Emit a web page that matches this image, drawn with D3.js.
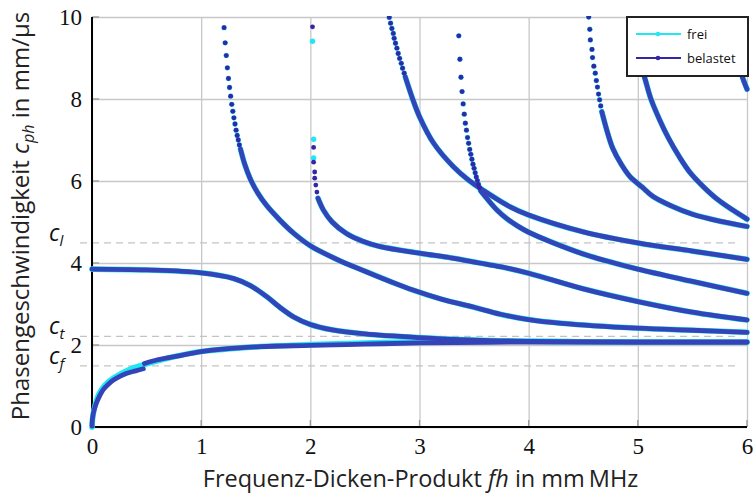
<!DOCTYPE html>
<html lang="de">
<head>
<meta charset="utf-8">
<title>Dispersionskurven</title>
<script src="https://cdn.jsdelivr.net/npm/d3@7"></script>
<style>
  body { margin: 0; background: #fff; }
  svg { display: block; }
</style>
</head>
<body>
<script>
// tick values
var xTicks = [0, 1, 2, 3, 4, 5, 6];
var yTicks = [0, 2, 4, 6, 8, 10];

// reference velocities (dashed lines)
var refNames = ["l", "t", "f"];
var refValues = [4.49, 2.21, 1.49];

// --- "belastet" modes, [fh, cph] ---
var a0LowB = [[0, 0.02], [0.003, 0.17], [0.01, 0.3], [0.02, 0.42], [0.04, 0.58], [0.07, 0.76], [0.10, 0.90],
  [0.15, 1.04], [0.20, 1.15], [0.26, 1.24], [0.32, 1.31], [0.40, 1.37], [0.47, 1.42]];
var a0HighB = [[0.48, 1.55], [0.6, 1.64], [0.78, 1.73], [1.0, 1.84], [1.25, 1.91], [1.54, 1.96], [2.0, 1.99],
  [2.5, 2.02], [3.0, 2.05], [4.0, 2.07], [5.0, 2.07], [6.0, 2.07]];
var s0B = [[0, 3.85], [0.5, 3.83], [1.0, 3.76], [1.3, 3.62], [1.45, 3.45], [1.6, 3.18], [1.72, 2.92], [1.85, 2.68],
  [2.0, 2.5], [2.2, 2.37], [2.5, 2.27], [3.0, 2.18], [3.5, 2.12], [4.0, 2.09], [5.0, 2.07], [6.0, 2.07]];
var a1Dots = [[1.21, 9.74], [1.22, 9.37], [1.23, 9.06], [1.24, 8.76], [1.25, 8.5], [1.26, 8.28], [1.27, 8.07],
  [1.28, 7.87], [1.29, 7.7], [1.30, 7.54], [1.31, 7.39], [1.32, 7.24], [1.33, 7.11], [1.34, 7.0], [1.35, 6.88]];
var a1Line = [[1.36, 6.78], [1.40, 6.4], [1.45, 6.05], [1.52, 5.7], [1.6, 5.4], [1.72, 5.05], [1.85, 4.72], [2.0, 4.42],
  [2.25, 4.08], [2.5, 3.8], [2.75, 3.53], [2.94, 3.34], [3.2, 3.12], [3.5, 2.92], [3.74, 2.75], [4.0, 2.62],
  [4.3, 2.53], [5.0, 2.41], [5.5, 2.36], [6.0, 2.31]];
var s1DotsB = [[2.02, 9.76], [2.03, 6.82], [2.03, 6.46], [2.04, 6.22], [2.04, 6.07], [2.05, 5.9], [2.06, 5.73]];
var s1Line = [[2.07, 5.58], [2.12, 5.29], [2.2, 5.0], [2.33, 4.72], [2.48, 4.53], [2.64, 4.40], [3.0, 4.24],
  [3.3, 4.12], [3.55, 4.0], [3.74, 3.91], [4.0, 3.75], [4.5, 3.37], [5.0, 3.06], [5.5, 2.8], [6.0, 2.61]];
var a2Dots = [[2.723, 9.99], [2.735, 9.85], [2.747, 9.72], [2.76, 9.60], [2.768, 9.48], [2.78, 9.36],
  [2.793, 9.24], [2.805, 9.11], [2.818, 8.99], [2.833, 8.87], [2.845, 8.75], [2.86, 8.63]];
var a2Line = [[2.87, 8.54], [2.94, 7.98], [3.0, 7.57], [3.13, 6.92],
  [3.31, 6.35], [3.45, 6.02], [3.58, 5.78], [3.83, 5.37], [4.0, 5.17], [4.5, 4.76], [5.0, 4.49], [5.5, 4.29], [6.0, 4.09]];
var s2Dots = [[3.36, 9.54], [3.37, 8.97], [3.38, 8.53], [3.39, 8.18], [3.40, 7.88], [3.41, 7.63], [3.42, 7.41],
  [3.43, 7.24], [3.44, 7.06], [3.45, 6.92], [3.46, 6.77], [3.47, 6.65], [3.48, 6.53], [3.49, 6.41], [3.50, 6.31],
  [3.51, 6.20], [3.52, 6.10], [3.53, 6.01], [3.54, 5.92], [3.55, 5.84]];
var s2Line = [[3.56, 5.76], [3.64, 5.5], [3.71, 5.29], [3.8, 5.08], [3.9, 4.9], [4.0, 4.75], [4.2, 4.52],
  [4.5, 4.22], [4.7, 4.06], [5.0, 3.85], [5.5, 3.55], [6.0, 3.26]];
var a3Dots = [[4.55, 10.0], [4.56, 9.70], [4.565, 9.44], [4.58, 9.21], [4.585, 9.01], [4.597, 8.80], [4.61, 8.63],
  [4.62, 8.45], [4.63, 8.29], [4.64, 8.12], [4.65, 7.98], [4.66, 7.83]];
var a3Line = [[4.67, 7.69], [4.72, 7.2], [4.77, 6.8], [4.85, 6.4], [4.93, 6.1], [5.04, 5.85], [5.14, 5.62],
  [5.3, 5.4], [5.5, 5.19], [5.75, 5.02], [6.0, 4.89]];
var s3Line = [[4.92, 10.0], [4.96, 9.4], [5.0, 9.0], [5.03, 8.75], [5.06, 8.54], [5.12, 8.0], [5.2, 7.49],
  [5.28, 7.05], [5.38, 6.59], [5.48, 6.2], [5.6, 5.86], [5.73, 5.55], [5.87, 5.29], [6.0, 5.07]];
var a4Line = [[5.8, 10.0], [5.88, 9.3], [5.95, 8.6], [6.0, 8.24]];

// --- "frei" modes where they differ from "belastet" ---
var a0F = [[0, 0], [0.01, 0.3], [0.03, 0.55], [0.06, 0.78], [0.1, 0.96], [0.15, 1.1], [0.2, 1.2], [0.3, 1.35],
  [0.4, 1.46], [0.5, 1.54], [0.78, 1.73], [1.0, 1.84], [1.54, 1.96], [2.0, 2.01], [2.5, 2.05], [3.0, 2.08],
  [3.5, 2.09], [4.0, 2.09], [4.5, 2.08], [5.0, 2.08], [6.0, 2.07]];
var s1DotsF = [[2.02, 9.41], [2.03, 7.02], [2.03, 6.56]];

var freiLines = [a0F, s0B, a1Line, s1Line, a2Line, s2Line, a3Line, s3Line, a4Line];
var freiDots = [a1Dots, s1DotsF, a2Dots, s2Dots, a3Dots];
var belastetLines = [a0LowB, a0HighB, s0B, a1Line, s1Line, a2Line, s2Line, a3Line, s3Line, a4Line];
var belastetDots = [a1Dots, s1DotsB, a2Dots, s2Dots, a3Dots];

var freiColor = "#1fe8f4";
var belastetColor = "#3426a6";
var belastetLineColor = "#3444b8";

var width = 756, height = 497;
var plotLeft = 92, plotRight = 747, plotTop = 17, plotBottom = 427;

var svg = d3.select("body").append("svg")
  .attr("width", width)
  .attr("height", height);

var x = d3.scaleLinear().domain([0, 6]).range([plotLeft, plotRight]);
var y = d3.scaleLinear().domain([0, 10]).range([plotBottom, plotTop]);

var serif = "'Liberation Serif', 'DejaVu Serif', serif";
var sans = "'Open Sans', 'DejaVu Sans', sans-serif";

// grid + tick labels
var xAxis = svg.append("g")
  .attr("transform", "translate(0," + plotBottom + ")")
  .call(d3.axisBottom(x).tickValues(xTicks).tickFormat(d3.format("d"))
    .tickSizeInner(-(plotBottom - plotTop)).tickSizeOuter(0).tickPadding(11));
var yAxis = svg.append("g")
  .attr("transform", "translate(" + plotLeft + ",0)")
  .call(d3.axisLeft(y).tickValues(yTicks).tickFormat(d3.format("d"))
    .tickSizeInner(-(plotRight - plotLeft)).tickSizeOuter(0).tickPadding(10));

[xAxis, yAxis].forEach(function (ax) {
  ax.select(".domain").remove();
  ax.selectAll(".tick line").attr("stroke", "#c8c8c8").attr("stroke-width", 1.3);
  ax.selectAll(".tick text")
    .attr("fill", "#111")
    .style("font-family", serif)
    .style("font-size", "23px");
});

// short inner tick marks
svg.append("g").selectAll("line").data(xTicks.slice(1)).enter().append("line")
  .attr("x1", function (d) { return x(d); }).attr("x2", function (d) { return x(d); })
  .attr("y1", plotBottom).attr("y2", plotBottom - 7)
  .attr("stroke", "#999").attr("stroke-width", 1.3);
svg.append("g").selectAll("line").data(yTicks.slice(1)).enter().append("line")
  .attr("x1", plotLeft).attr("x2", plotLeft + 7)
  .attr("y1", function (d) { return y(d); }).attr("y2", function (d) { return y(d); })
  .attr("stroke", "#999").attr("stroke-width", 1.3);

// dashed reference lines
svg.append("g").selectAll("line").data(refValues).enter().append("line")
  .attr("x1", x(-0.11)).attr("x2", x(5.9))
  .attr("y1", function (d) { return y(d); }).attr("y2", function (d) { return y(d); })
  .attr("stroke", "#c4c4c4").attr("stroke-width", 1.3)
  .attr("stroke-dasharray", "7,5");

var refLabels = svg.append("g").selectAll("text").data(refValues).enter().append("text")
  .attr("x", 49)
  .attr("y", function (d) { return y(d) - 2; })
  .attr("fill", "#111")
  .style("font-family", sans)
  .style("font-style", "italic")
  .style("font-size", "23px");
refLabels.append("tspan").text("c");
refLabels.append("tspan")
  .attr("dy", 5)
  .style("font-size", "15px")
  .text(function (d, i) { return refNames[i]; });

// axis lines
svg.append("line").attr("x1", plotLeft).attr("x2", plotLeft).attr("y1", plotTop).attr("y2", plotBottom + 1)
  .attr("stroke", "#000").attr("stroke-width", 2);
svg.append("line").attr("x1", plotLeft - 1).attr("x2", plotRight).attr("y1", plotBottom).attr("y2", plotBottom)
  .attr("stroke", "#000").attr("stroke-width", 2);

// curves
svg.append("defs").append("clipPath").attr("id", "clip")
  .append("rect").attr("x", plotLeft - 4).attr("y", plotTop - 1)
  .attr("width", plotRight - plotLeft + 8).attr("height", plotBottom - plotTop + 5);

var plot = svg.append("g").attr("clip-path", "url(#clip)");
var line = d3.line()
  .x(function (d) { return x(d[0]); })
  .y(function (d) { return y(d[1]); })
  .curve(d3.curveCatmullRom);

function drawSeries(lines, dots, lineColor, dotColor, lw, r) {
  var g = plot.append("g");
  g.selectAll("path").data(lines).enter().append("path")
    .attr("d", line)
    .attr("fill", "none")
    .attr("stroke", lineColor)
    .attr("stroke-width", lw)
    .attr("stroke-linecap", "round")
    .attr("stroke-linejoin", "round");
  g.selectAll("g.dots").data(dots).enter().append("g").attr("class", "dots")
    .selectAll("circle").data(function (d) { return d; }).enter().append("circle")
    .attr("cx", function (d) { return x(d[0]); })
    .attr("cy", function (d) { return y(d[1]); })
    .attr("r", r)
    .attr("fill", dotColor);
}

drawSeries(freiLines, freiDots, freiColor, freiColor, 5.6, 2.7);
drawSeries(belastetLines, belastetDots, belastetLineColor, belastetColor, 4.8, 2.4);

// axis titles
var xTitle = svg.append("text")
  .attr("x", (plotLeft + plotRight) / 2 + 1)
  .attr("y", 487)
  .attr("text-anchor", "middle")
  .attr("fill", "#222")
  .style("font-family", sans)
  .style("font-size", "23.5px");
xTitle.append("tspan").text("Frequenz-Dicken-Produkt ");
xTitle.append("tspan").style("font-style", "italic").text("fh");
xTitle.append("tspan").text(" in mm\u2009MHz");

var yTitle = svg.append("text")
  .attr("transform", "translate(29,216) rotate(-90)")
  .attr("text-anchor", "middle")
  .attr("fill", "#222")
  .style("font-family", sans)
  .style("font-size", "24px");
yTitle.append("tspan").text("Phasengeschwindigkeit ");
yTitle.append("tspan").style("font-style", "italic").text("c");
yTitle.append("tspan").attr("dy", 5).style("font-style", "italic").style("font-size", "16px").text("ph");
yTitle.append("tspan").attr("dy", -5).text(" in mm/\u03bcs");

// legend
var legend = svg.append("g");
legend.append("rect")
  .attr("x", 627).attr("y", 17).attr("width", 121).attr("height", 59)
  .attr("fill", "#fff").attr("stroke", "#222").attr("stroke-width", 2);
var legendNames = ["frei", "belastet"];
var legendColors = [freiColor, belastetColor];
var items = legend.selectAll("g.item").data(legendNames).enter().append("g").attr("class", "item")
  .attr("transform", function (d, i) { return "translate(0," + (34 + i * 24) + ")"; });
items.append("line").attr("x1", 636).attr("x2", 681).attr("y1", 0).attr("y2", 0)
  .attr("stroke", function (d, i) { return legendColors[i]; }).attr("stroke-width", 2);
items.append("circle").attr("cx", 658).attr("cy", 0).attr("r", 2.3)
  .attr("fill", function (d, i) { return legendColors[i]; });
items.append("text").attr("x", 687).attr("y", 4.5)
  .attr("fill", "#111")
  .style("font-family", sans)
  .style("font-size", "13px")
  .text(function (d) { return d; });
</script>
</body>
</html>
